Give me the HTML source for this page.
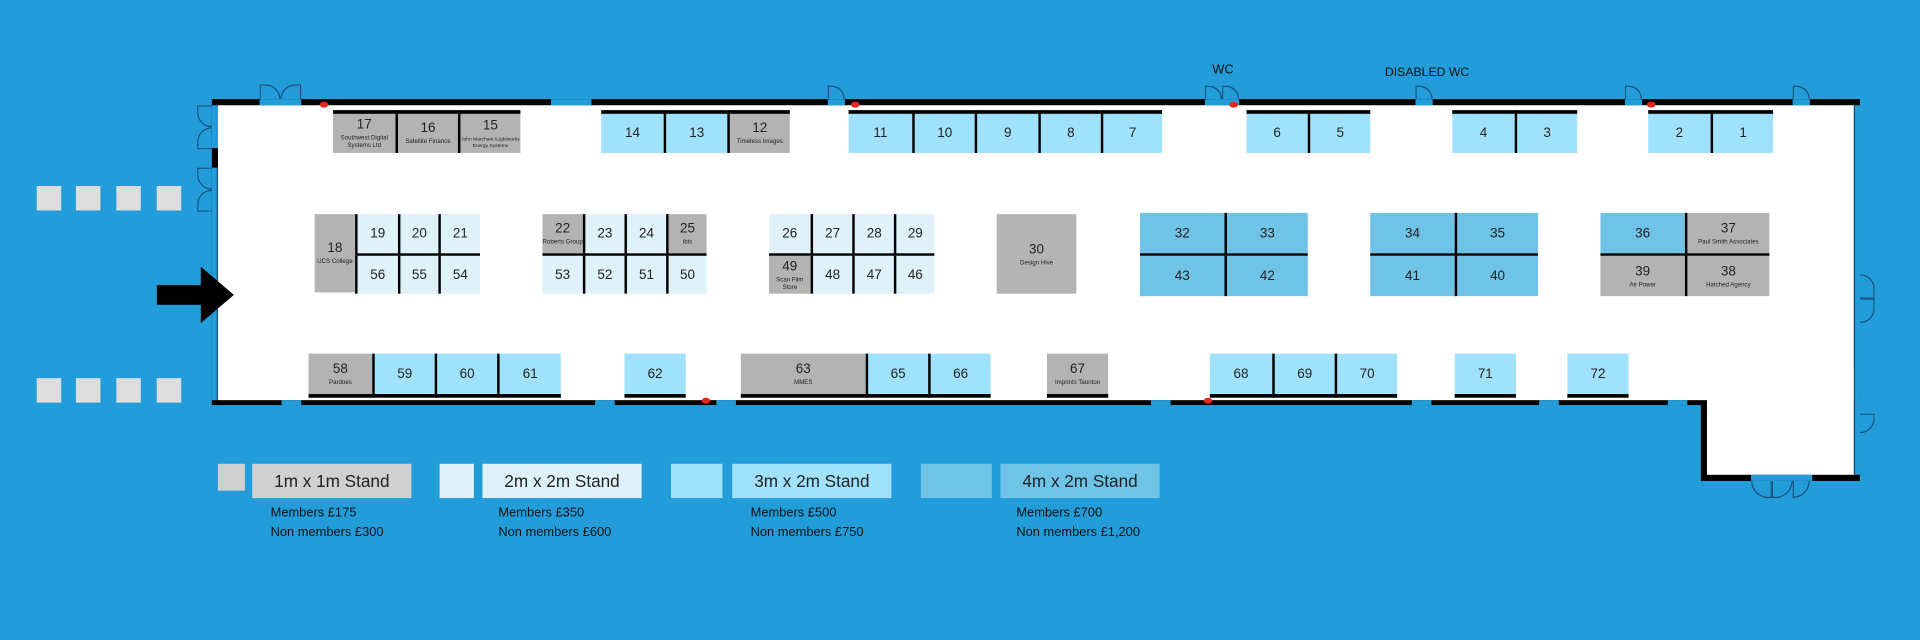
<!DOCTYPE html>
<html><head><meta charset="utf-8"><style>
html,body{margin:0;padding:0;background:#229dd9;}
body{width:1920px;height:640px;overflow:hidden;position:relative;font-family:"Liberation Sans",sans-serif;}
#w{position:absolute;left:0;top:0;width:1568px;height:523px;transform:scale(1.2245,1.2237);transform-origin:0 0;}
.a{position:absolute;}
.s{position:absolute;box-sizing:border-box;display:flex;flex-direction:column;align-items:center;justify-content:center;color:#222;text-align:center;}
.s b{font-weight:normal;font-size:11px;line-height:12px;}
.s i{font-style:normal;font-size:5px;line-height:6px;margin-top:2px;}
.g{background:#b3b3b3;}
.l{background:#a0e2fb;}
.v{background:#dff1f9;}
.m{background:#6ec3e6;}
.bl{border-left:2px solid #000;}
.bt{border-top:3px solid #000;}
.bb{border-bottom:3px solid #000;}
.k{position:absolute;background:#000;}
.d{position:absolute;border:1px solid #1a4f7a;box-sizing:border-box;}
.lg{position:absolute;top:379px;height:28px;font-size:14px;color:#222;display:flex;align-items:center;justify-content:center;}
.lt{position:absolute;top:411px;font-size:10.5px;line-height:16px;color:#111;}
</style></head><body><div id="w">

<!-- building -->
<div class="a" style="left:173px;top:81px;width:1346px;height:250px;background:#000;"></div>
<div class="a" style="left:1389px;top:320px;width:130px;height:73px;background:#000;"></div>
<div class="a" style="left:178px;top:86px;width:1336px;height:241px;background:#fff;"></div>
<div class="a" style="left:1394px;top:300px;width:120px;height:88px;background:#fff;"></div>
<!-- left wall blue strips -->
<div class="a" style="left:173px;top:86px;width:5px;height:35px;background:#229dd9;"></div>
<div class="a" style="left:173px;top:137px;width:5px;height:190px;background:#229dd9;border-right:1px solid #1a4f7a;box-sizing:border-box;"></div>
<!-- right wall strip -->
<div class="a" style="left:1514px;top:86px;width:5px;height:302px;background:#229dd9;border-left:1px solid #1a4f7a;box-sizing:border-box;"></div>
<!-- wall gaps (doors/windows) -->
<div class="a" style="left:212px;top:81px;width:34px;height:5px;background:#229dd9;"></div>
<div class="a" style="left:450px;top:81px;width:33px;height:5px;background:#229dd9;"></div>
<div class="a" style="left:676px;top:81px;width:14px;height:5px;background:#229dd9;"></div>
<div class="a" style="left:984px;top:81px;width:28px;height:5px;background:#229dd9;"></div>
<div class="a" style="left:1156px;top:81px;width:14px;height:5px;background:#229dd9;"></div>
<div class="a" style="left:1327px;top:81px;width:14px;height:5px;background:#229dd9;"></div>
<div class="a" style="left:1464px;top:81px;width:14px;height:5px;background:#229dd9;"></div>
<div class="a" style="left:230px;top:327px;width:16px;height:4px;background:#229dd9;"></div>
<div class="a" style="left:486px;top:327px;width:16px;height:4px;background:#229dd9;"></div>
<div class="a" style="left:585px;top:327px;width:16px;height:4px;background:#229dd9;"></div>
<div class="a" style="left:940px;top:327px;width:16px;height:4px;background:#229dd9;"></div>
<div class="a" style="left:1153px;top:327px;width:16px;height:4px;background:#229dd9;"></div>
<div class="a" style="left:1257px;top:327px;width:16px;height:4px;background:#229dd9;"></div>
<div class="a" style="left:1362px;top:327px;width:16px;height:4px;background:#229dd9;"></div>
<div class="a" style="left:1430px;top:388px;width:50px;height:5px;background:#229dd9;"></div>
<!-- door arcs -->
<div class="d" style="left:212px;top:69px;width:17px;height:12px;border-radius:0 17px 0 0;border-bottom:none;border-left:1px solid #1a4f7a;"></div>
<div class="d" style="left:229px;top:69px;width:17px;height:12px;border-radius:17px 0 0 0;border-bottom:none;"></div>
<div class="d" style="left:676px;top:70px;width:14px;height:11px;border-radius:0 14px 0 0;border-bottom:none;"></div>
<div class="d" style="left:984px;top:70px;width:14px;height:11px;border-radius:0 14px 0 0;border-bottom:none;"></div>
<div class="d" style="left:998px;top:70px;width:14px;height:11px;border-radius:0 14px 0 0;border-bottom:none;"></div>
<div class="d" style="left:1156px;top:70px;width:14px;height:11px;border-radius:0 14px 0 0;border-bottom:none;"></div>
<div class="d" style="left:1327px;top:70px;width:14px;height:11px;border-radius:0 14px 0 0;border-bottom:none;"></div>
<div class="d" style="left:1464px;top:70px;width:14px;height:11px;border-radius:0 14px 0 0;border-bottom:none;"></div>
<div class="d" style="left:161px;top:86px;width:12px;height:18px;border-radius:0 0 0 16px;border-right:none;"></div>
<div class="d" style="left:161px;top:104px;width:12px;height:18px;border-radius:16px 0 0 0;border-right:none;"></div>
<div class="d" style="left:161px;top:137px;width:12px;height:18px;border-radius:0 0 0 16px;border-right:none;"></div>
<div class="d" style="left:161px;top:155px;width:12px;height:18px;border-radius:16px 0 0 0;border-right:none;"></div>
<div class="d" style="left:1519px;top:224px;width:12px;height:20px;border-radius:0 16px 0 0;border-left:none;"></div>
<div class="d" style="left:1519px;top:244px;width:12px;height:20px;border-radius:0 0 16px 0;border-left:none;"></div>
<div class="d" style="left:1519px;top:338px;width:12px;height:16px;border-radius:0 0 16px 0;border-left:none;"></div>
<div class="d" style="left:1430px;top:393px;width:17px;height:14px;border-radius:0 0 0 17px;border-top:none;"></div>
<div class="d" style="left:1447px;top:393px;width:17px;height:14px;border-radius:0 0 17px 0;border-top:none;"></div>
<div class="d" style="left:1464px;top:393px;width:14px;height:14px;border-radius:0 0 14px 0;border-top:none;"></div>
<!-- red dots -->
<div class="a" style="left:261px;top:83px;width:7px;height:5px;border-radius:50%;background:#e8261c;"></div>
<div class="a" style="left:695px;top:83px;width:7px;height:5px;border-radius:50%;background:#e8261c;"></div>
<div class="a" style="left:1004px;top:83px;width:7px;height:5px;border-radius:50%;background:#e8261c;"></div>
<div class="a" style="left:1345px;top:83px;width:7px;height:5px;border-radius:50%;background:#e8261c;"></div>
<div class="a" style="left:573px;top:325px;width:7px;height:5px;border-radius:50%;background:#e8261c;"></div>
<div class="a" style="left:983px;top:325px;width:7px;height:5px;border-radius:50%;background:#e8261c;"></div>

<div class="a" style="left:990px;top:51px;font-size:10.5px;color:#111;">WC</div>
<div class="a" style="left:1131px;top:54px;font-size:10px;color:#111;">DISABLED WC</div>

<!-- grey squares left -->
<div class="a" style="left:30px;top:152px;width:20px;height:20px;background:#ddd;"></div>
<div class="a" style="left:62px;top:152px;width:20px;height:20px;background:#ddd;"></div>
<div class="a" style="left:95px;top:152px;width:20px;height:20px;background:#ddd;"></div>
<div class="a" style="left:128px;top:152px;width:20px;height:20px;background:#ddd;"></div>
<div class="a" style="left:30px;top:309px;width:20px;height:20px;background:#ddd;"></div>
<div class="a" style="left:62px;top:309px;width:20px;height:20px;background:#ddd;"></div>
<div class="a" style="left:95px;top:309px;width:20px;height:20px;background:#ddd;"></div>
<div class="a" style="left:128px;top:309px;width:20px;height:20px;background:#ddd;"></div>
<!-- arrow -->
<svg class="a" style="left:128px;top:218px" width="64" height="46"><polygon points="0,15 36,15 36,0 63,23 36,46 36,31 0,31" fill="#000"/></svg>

<!-- top row -->
<div class="s g bt" style="left:272px;top:90px;width:51px;height:35px;"><b>17</b><i>Southwest Digital Systems Ltd</i></div>
<div class="s g bt bl" style="left:323px;top:90px;width:51px;height:35px;"><b>16</b><i>Satellite Finance</i></div>
<div class="s g bt bl" style="left:374px;top:90px;width:51px;height:35px;"><b>15</b><i style="font-size:4px;line-height:5px">John Marchant /Lightworks Energy Systems</i></div>
<div class="s l bt" style="left:491px;top:90px;width:51px;height:35px;"><b>14</b></div>
<div class="s l bt bl" style="left:542px;top:90px;width:52px;height:35px;"><b>13</b></div>
<div class="s g bt bl" style="left:594px;top:90px;width:51px;height:35px;"><b>12</b><i>Timeless Images</i></div>
<div class="s l bt" style="left:693px;top:90px;width:52px;height:35px;"><b>11</b></div>
<div class="s l bt bl" style="left:745px;top:90px;width:51px;height:35px;"><b>10</b></div>
<div class="s l bt bl" style="left:796px;top:90px;width:52px;height:35px;"><b>9</b></div>
<div class="s l bt bl" style="left:848px;top:90px;width:51px;height:35px;"><b>8</b></div>
<div class="s l bt bl" style="left:899px;top:90px;width:50px;height:35px;"><b>7</b></div>
<div class="s l bt" style="left:1018px;top:90px;width:50px;height:35px;"><b>6</b></div>
<div class="s l bt bl" style="left:1068px;top:90px;width:51px;height:35px;"><b>5</b></div>
<div class="s l bt" style="left:1186px;top:90px;width:51px;height:35px;"><b>4</b></div>
<div class="s l bt bl" style="left:1237px;top:90px;width:51px;height:35px;"><b>3</b></div>
<div class="s l bt" style="left:1346px;top:90px;width:51px;height:35px;"><b>2</b></div>
<div class="s l bt bl" style="left:1397px;top:90px;width:51px;height:35px;"><b>1</b></div>

<!-- middle block 1 -->
<div class="s g" style="left:257px;top:175px;width:33px;height:64px;"><b>18</b><i>UCS College</i></div>
<div class="s v bl" style="left:290px;top:175px;width:35px;height:32px;"><b>19</b></div>
<div class="s v bl" style="left:325px;top:175px;width:33px;height:32px;"><b>20</b></div>
<div class="s v bl" style="left:358px;top:175px;width:34px;height:32px;"><b>21</b></div>
<div class="s v bl" style="left:290px;top:209px;width:35px;height:31px;"><b>56</b></div>
<div class="s v bl" style="left:325px;top:209px;width:33px;height:31px;"><b>55</b></div>
<div class="s v bl" style="left:358px;top:209px;width:34px;height:31px;"><b>54</b></div>
<div class="k" style="left:290px;top:207px;width:102px;height:2px;"></div>
<!-- block 2 -->
<div class="s g" style="left:443px;top:175px;width:33px;height:32px;"><b>22</b><i>Roberts Group</i></div>
<div class="s v bl" style="left:476px;top:175px;width:34px;height:32px;"><b>23</b></div>
<div class="s v bl" style="left:510px;top:175px;width:34px;height:32px;"><b>24</b></div>
<div class="s g bl" style="left:544px;top:175px;width:33px;height:32px;"><b>25</b><i>ibis</i></div>
<div class="s v" style="left:443px;top:209px;width:33px;height:31px;"><b>53</b></div>
<div class="s v bl" style="left:476px;top:209px;width:34px;height:31px;"><b>52</b></div>
<div class="s v bl" style="left:510px;top:209px;width:34px;height:31px;"><b>51</b></div>
<div class="s v bl" style="left:544px;top:209px;width:33px;height:31px;"><b>50</b></div>
<div class="k" style="left:443px;top:207px;width:134px;height:2px;"></div>
<!-- block 3 -->
<div class="s v" style="left:628px;top:175px;width:34px;height:32px;"><b>26</b></div>
<div class="s v bl" style="left:662px;top:175px;width:34px;height:32px;"><b>27</b></div>
<div class="s v bl" style="left:696px;top:175px;width:34px;height:32px;"><b>28</b></div>
<div class="s v bl" style="left:730px;top:175px;width:33px;height:32px;"><b>29</b></div>
<div class="s g" style="left:628px;top:209px;width:34px;height:31px;"><b>49</b><i>Scan Film Store</i></div>
<div class="s v bl" style="left:662px;top:209px;width:34px;height:31px;"><b>48</b></div>
<div class="s v bl" style="left:696px;top:209px;width:34px;height:31px;"><b>47</b></div>
<div class="s v bl" style="left:730px;top:209px;width:33px;height:31px;"><b>46</b></div>
<div class="k" style="left:628px;top:207px;width:135px;height:2px;"></div>
<!-- 30 -->
<div class="s g" style="left:814px;top:175px;width:65px;height:65px;"><b>30</b><i>Design Hive</i></div>
<!-- blocks 4m -->
<div class="s m" style="left:931px;top:174px;width:69px;height:33px;"><b>32</b></div>
<div class="s m bl" style="left:1000px;top:174px;width:68px;height:33px;"><b>33</b></div>
<div class="s m" style="left:931px;top:209px;width:69px;height:33px;"><b>43</b></div>
<div class="s m bl" style="left:1000px;top:209px;width:68px;height:33px;"><b>42</b></div>
<div class="k" style="left:931px;top:207px;width:137px;height:2px;"></div>
<div class="s m" style="left:1119px;top:174px;width:69px;height:33px;"><b>34</b></div>
<div class="s m bl" style="left:1188px;top:174px;width:68px;height:33px;"><b>35</b></div>
<div class="s m" style="left:1119px;top:209px;width:69px;height:33px;"><b>41</b></div>
<div class="s m bl" style="left:1188px;top:209px;width:68px;height:33px;"><b>40</b></div>
<div class="k" style="left:1119px;top:207px;width:137px;height:2px;"></div>
<div class="s m" style="left:1307px;top:174px;width:69px;height:33px;"><b>36</b></div>
<div class="s g bl" style="left:1376px;top:174px;width:69px;height:33px;"><b>37</b><i>Paul Smith Associates</i></div>
<div class="s g" style="left:1307px;top:209px;width:69px;height:33px;"><b>39</b><i>Air Power</i></div>
<div class="s g bl" style="left:1376px;top:209px;width:69px;height:33px;"><b>38</b><i>Hatched Agency</i></div>
<div class="k" style="left:1307px;top:207px;width:138px;height:2px;"></div>

<!-- bottom row -->
<div class="s g bb" style="left:252px;top:289px;width:52px;height:36px;"><b>58</b><i>Pardoes</i></div>
<div class="s l bb bl" style="left:304px;top:289px;width:51px;height:36px;"><b>59</b></div>
<div class="s l bb bl" style="left:355px;top:289px;width:51px;height:36px;"><b>60</b></div>
<div class="s l bb bl" style="left:406px;top:289px;width:52px;height:36px;"><b>61</b></div>
<div class="s l bb" style="left:510px;top:289px;width:50px;height:36px;"><b>62</b></div>
<div class="s g bb" style="left:605px;top:289px;width:102px;height:36px;"><b>63</b><i>MMES</i></div>
<div class="s l bb bl" style="left:707px;top:289px;width:51px;height:36px;"><b>65</b></div>
<div class="s l bb bl" style="left:758px;top:289px;width:51px;height:36px;"><b>66</b></div>
<div class="s g bb" style="left:855px;top:289px;width:50px;height:36px;"><b>67</b><i>Imprints Taunton</i></div>
<div class="s l bb" style="left:988px;top:289px;width:51px;height:36px;"><b>68</b></div>
<div class="s l bb bl" style="left:1039px;top:289px;width:51px;height:36px;"><b>69</b></div>
<div class="s l bb bl" style="left:1090px;top:289px;width:51px;height:36px;"><b>70</b></div>
<div class="s l bb" style="left:1188px;top:289px;width:50px;height:36px;"><b>71</b></div>
<div class="s l bb" style="left:1280px;top:289px;width:50px;height:36px;"><b>72</b></div>

<!-- legend -->
<div class="a" style="left:178px;top:379px;width:22px;height:22px;background:#d0d0d0;"></div>
<div class="lg" style="left:206px;width:130px;background:#d0d0d0;">1m x 1m Stand</div>
<div class="a" style="left:359px;top:379px;width:28px;height:28px;background:#dff1f9;"></div>
<div class="lg" style="left:394px;width:130px;background:#dff1f9;">2m x 2m Stand</div>
<div class="a" style="left:548px;top:379px;width:42px;height:28px;background:#a0e2fb;"></div>
<div class="lg" style="left:598px;width:130px;background:#a0e2fb;">3m x 2m Stand</div>
<div class="a" style="left:752px;top:379px;width:58px;height:28px;background:#6ec3e6;"></div>
<div class="lg" style="left:817px;width:130px;background:#6ec3e6;">4m x 2m Stand</div>
<div class="lt" style="left:221px;">Members £175<br>Non members £300</div>
<div class="lt" style="left:407px;">Members £350<br>Non members £600</div>
<div class="lt" style="left:613px;">Members £500<br>Non members £750</div>
<div class="lt" style="left:830px;">Members £700<br>Non members £1,200</div>
</div></body></html>
